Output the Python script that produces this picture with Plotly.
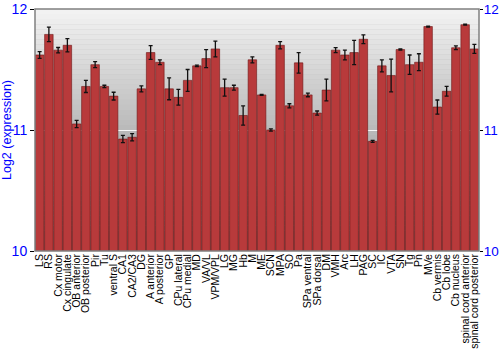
import plotly.graph_objects as go

regions = ["LS", "RS", "Cx motor", "Cx cingulate", "OB anterior", "OB posterior", "Pir", "Tu",
           "ventral S", "CA1", "CA2/CA3", "DG", "A anterior", "A posterior", "GP", "CPu lateral",
           "CPu medial", "MD", "VA/VL", "VPM/VPL", "LG", "MG", "Hb", "M", "ME", "SCN", "MPA", "SO",
           "Pa", "SPa ventral", "SPa dorsal", "DM", "VMH", "Arc", "LH", "PAG", "SC", "IC", "VTA",
           "SN", "Tg", "Pn", "MVe", "Cb vermis", "Cb lobe", "Cb nucleus", "spinal cord anterior",
           "spinal cord posterior"]

log2_expression = [11.62, 11.79, 11.66, 11.70, 11.05, 11.36, 11.54, 11.36,
                   11.28, 10.925, 10.94, 11.34, 11.64, 11.56, 11.34, 11.27,
                   11.41, 11.53, 11.59, 11.67, 11.35, 11.35, 11.12, 11.58, 11.29, 11.00, 11.70, 11.20,
                   11.555, 11.29, 11.14, 11.33, 11.66, 11.62, 11.64, 11.75, 10.906, 11.53, 11.45,
                   11.665, 11.54, 11.56, 11.855, 11.19, 11.32, 11.68, 11.87,
                   11.67]

std_error = [0.028, 0.06, 0.022, 0.055, 0.03, 0.05, 0.025, 0.01,
             0.032, 0.03, 0.03, 0.025, 0.057, 0.02, 0.09, 0.065,
             0.09, 0.006, 0.075, 0.065, 0.07, 0.02, 0.08, 0.025, 0.004, 0.01, 0.03, 0.017,
             0.085, 0.015, 0.017, 0.09, 0.02, 0.04, 0.1, 0.036, 0.008, 0.05, 0.135,
             0.005, 0.08, 0.07, 0.004, 0.058, 0.04, 0.015, 0.004,
             0.037]

y_ticks = [10, 11, 12]

fig = go.Figure()
fig.add_trace(go.Bar(
    x=regions, y=log2_expression,
    marker=dict(color="#b83a3b", line=dict(color="#6e1515", width=0.6)),
    error_y=dict(type="data", array=std_error, color="#111111", thickness=1.3, width=2),
    showlegend=False, hoverinfo="x+y",
))
fig.add_trace(go.Scatter(x=regions, y=log2_expression, yaxis="y2", mode="markers",
                         marker=dict(opacity=0, size=1), showlegend=False, hoverinfo="skip"))

# background vertical gradient
n = 48
shapes = []
top = (242, 242, 242)
bot = (128, 128, 128)
for i in range(n):
    t = i / (n - 1)
    c = tuple(int(round(bot[k] + (top[k] - bot[k]) * t)) for k in range(3))
    shapes.append(dict(type="rect", xref="paper", yref="paper", x0=0, x1=1,
                       y0=i / n, y1=(i + 1) / n, layer="below",
                       fillcolor="rgb(%d,%d,%d)" % c, line=dict(width=0)))
shapes.append(dict(type="rect", xref="paper", yref="paper", x0=0, x1=1, y0=0, y1=1,
                   line=dict(color="#808080", width=1.5), layer="above"))

fig.update_layout(
    width=500, height=350,
    margin=dict(l=35, r=21, t=9, b=99, autoexpand=False),
    paper_bgcolor="white", plot_bgcolor="#c0c0c0",
    font=dict(family="Liberation Sans, Arial, sans-serif", color="black"),
    bargap=0.08,
    shapes=shapes,
    xaxis=dict(tickangle=-90, tickfont=dict(size=10.5, color="black"), showgrid=False,
               tickmode="array", tickvals=regions, ticktext=regions,
               range=[-0.5, len(regions) - 0.5],
               ticks="", showline=False, zeroline=False, automargin=False),
    yaxis=dict(range=[10, 12], tickvals=y_ticks, ticktext=[str(v) for v in y_ticks],
               tickfont=dict(size=14, color="#0000ff"), ticks="outside", ticklen=4,
               tickcolor="black", showgrid=True, gridcolor="rgba(255,255,255,0.9)",
               gridwidth=1, zeroline=False, showline=False, automargin=False,
               title=dict(text="Log2 (expression)", font=dict(size=12.5, color="#0000ff"),
                          standoff=4)),
    yaxis2=dict(range=[10, 12], tickvals=y_ticks, overlaying="y", side="right",
                tickfont=dict(size=13.5, color="#0000ff"), ticks="outside", ticklen=3,
                ticklabelstandoff=-2,
                tickcolor="black", showgrid=False, zeroline=False, showline=False,
                automargin=False),
)

fig.write_html("out.html")
